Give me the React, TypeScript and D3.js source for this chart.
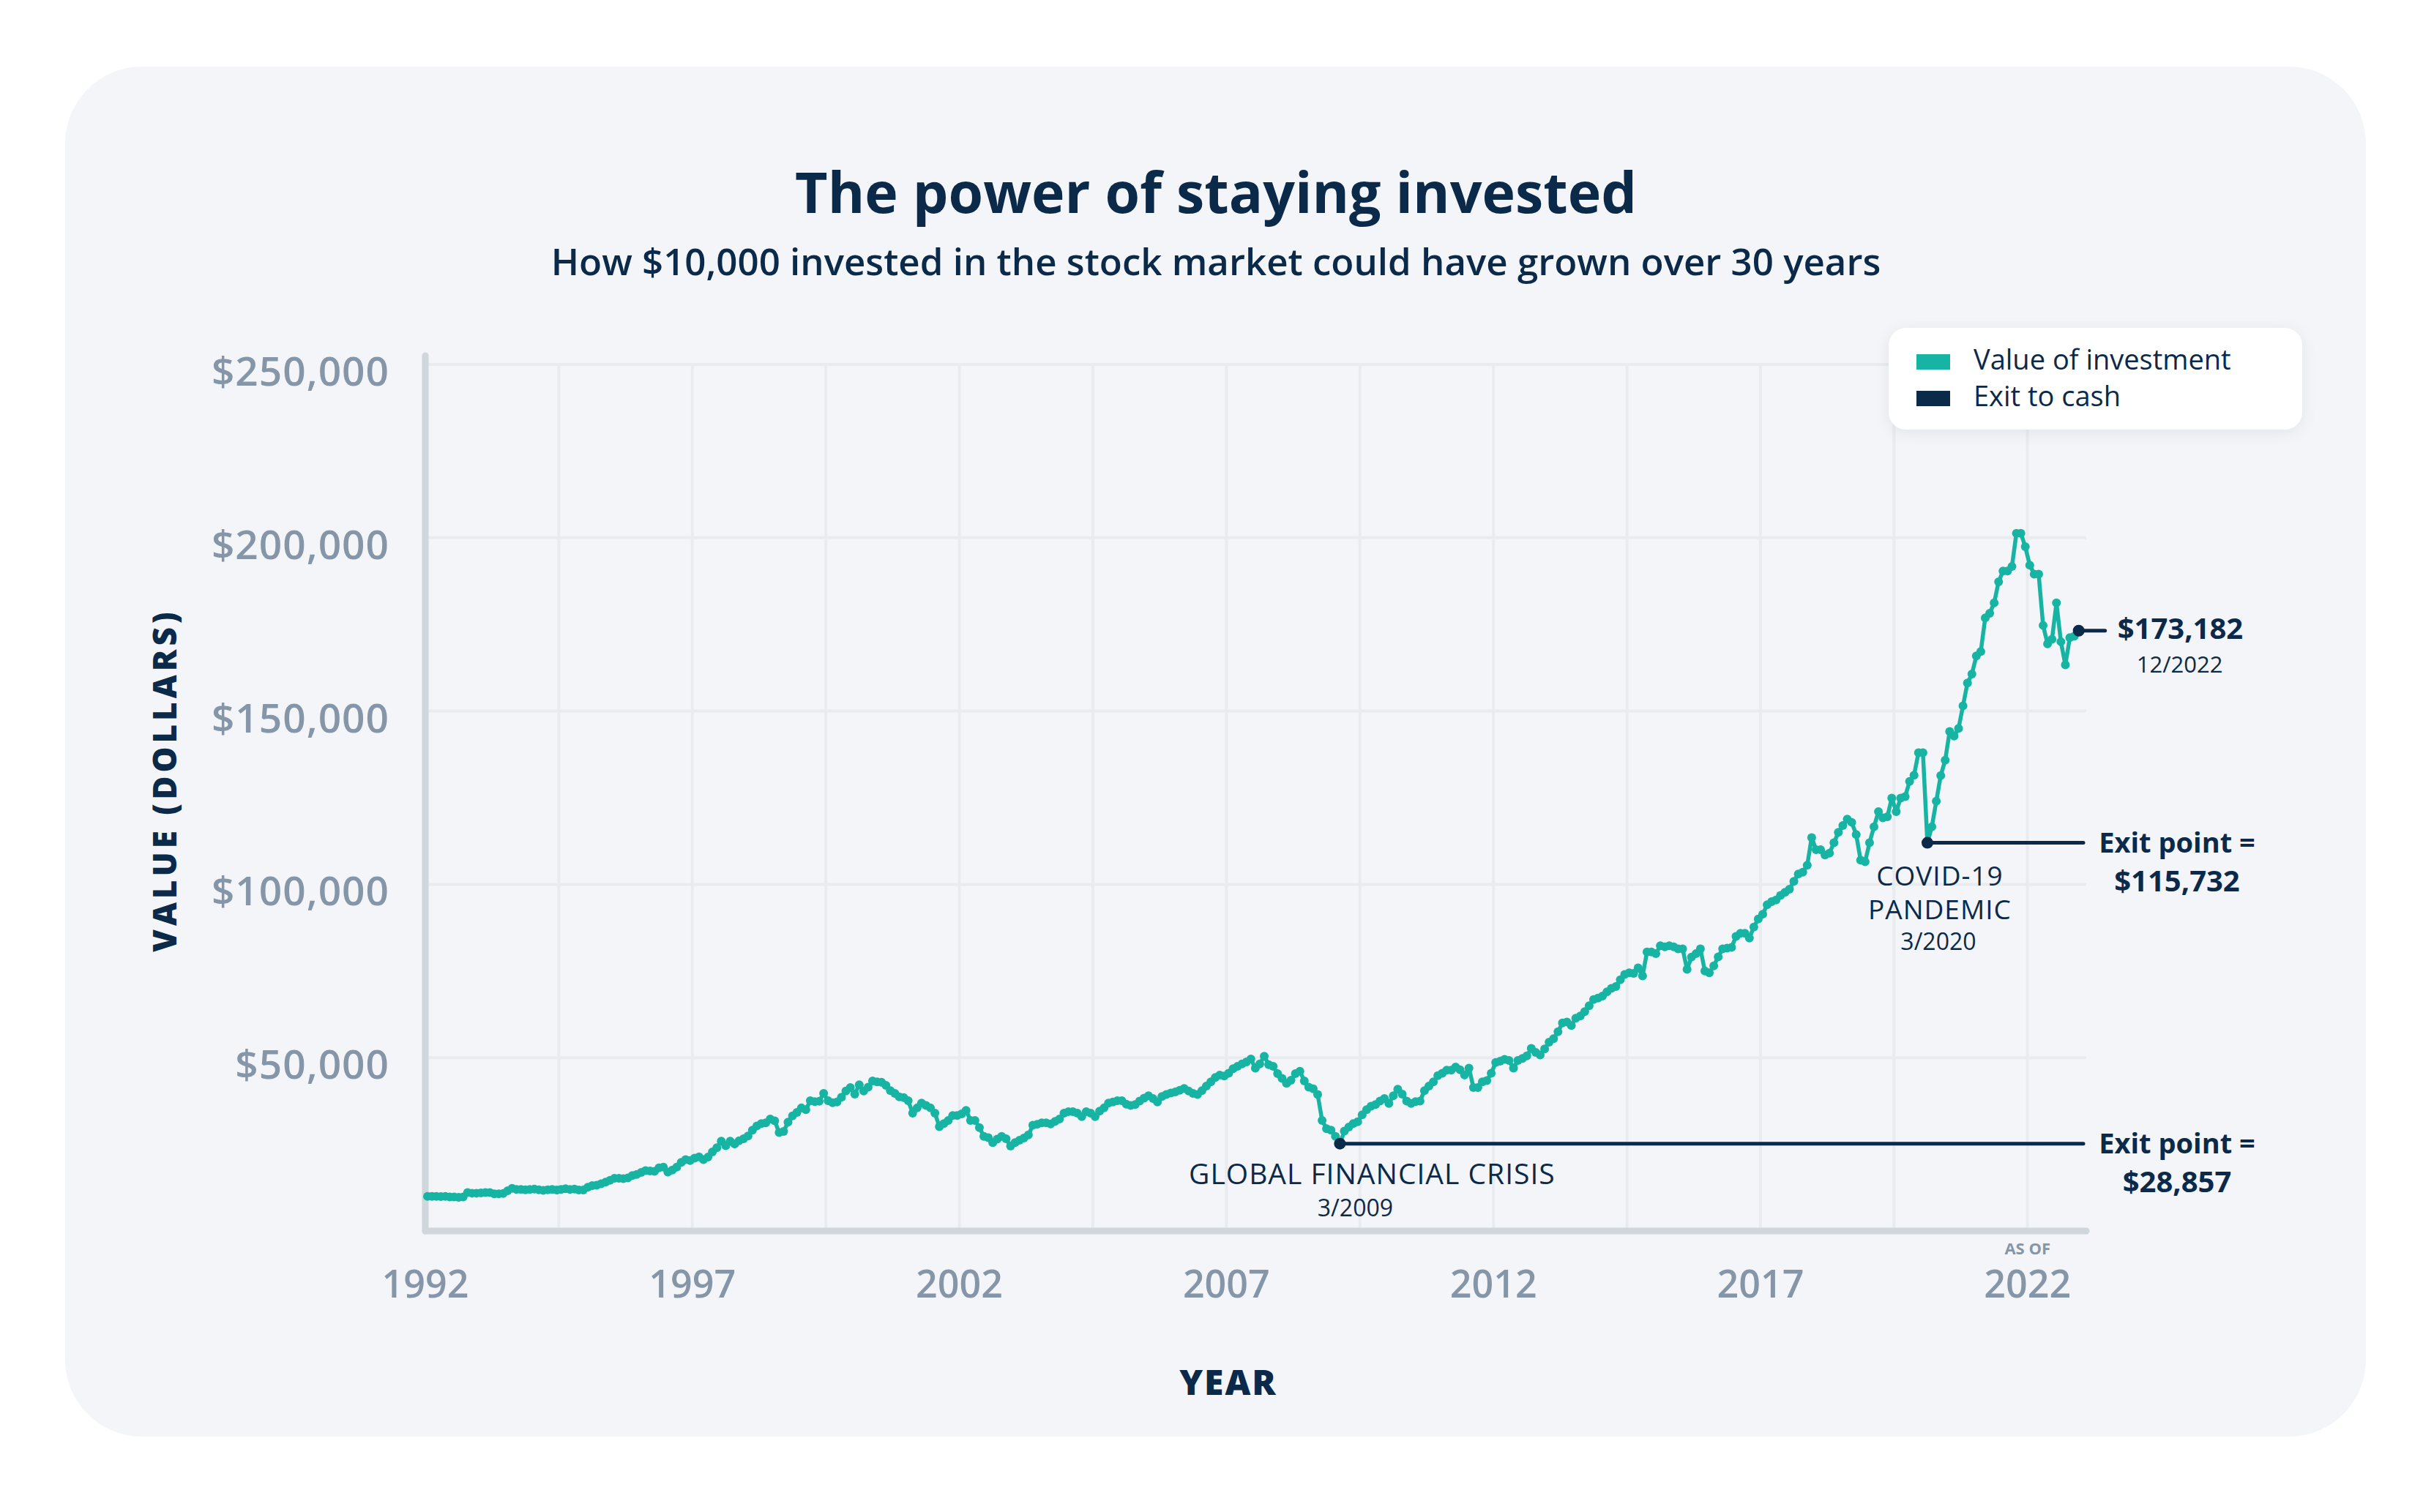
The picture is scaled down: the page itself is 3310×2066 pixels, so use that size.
import React from "react";
import * as d3 from "d3";

// monthly value of a $10,000 investment, in thousands of dollars
const values1992to1999 = [
  10.0, 10.0, 10.0, 9.9, 10.0, 9.8, 9.8, 9.7, 9.8, 11.1, 10.9, 10.9,
  11.0, 11.1, 11.1, 10.7, 10.7, 10.8, 11.6, 12.3, 12.0, 12.0, 11.9, 12.0,
  12.1, 11.9, 11.7, 11.9, 12.0, 11.8, 12.0, 12.2, 12.0, 12.1, 11.8, 11.8,
  12.6, 13.1, 13.2, 13.6, 14.1, 14.6, 15.2, 15.2, 15.1, 15.3, 16.0, 16.3,
  16.9, 17.4, 17.3, 17.2, 18.2, 18.4, 17.0, 17.6, 18.4, 19.8, 20.6, 20.3,
  21.0, 21.4, 20.6, 21.3, 22.8, 24.0, 25.9, 24.6, 25.9, 25.1, 26.0, 26.6,
  27.4, 29.1, 30.3, 31.0, 31.2, 32.3, 31.8, 28.4, 28.7, 31.4, 33.2, 34.2,
  35.5, 35.0, 37.6, 37.3, 37.4, 39.7, 37.6, 37.0, 37.2, 38.6, 40.4, 41.4,
];

const values2000to2009 = [
  39.5, 42.2, 40.4, 41.5, 43.3, 43.0, 42.9, 42.0, 40.5, 39.7, 38.7, 38.5,
  37.6, 34.0, 35.5, 36.9, 36.2, 35.5, 34.0, 30.1, 31.0, 31.9, 33.3, 33.3,
  33.8, 34.8, 31.9, 31.9, 29.8, 27.3, 26.9, 25.5, 26.5, 27.3, 26.6, 24.5,
  25.5, 26.2, 26.8, 27.7, 30.5, 30.8, 31.2, 31.2, 30.9, 31.6, 32.3, 34.0,
  34.4, 34.4, 34.0, 33.0, 34.4, 34.0, 33.0, 34.6, 35.5, 36.9, 37.2, 37.6,
  37.6, 36.6, 36.2, 36.5, 37.5, 38.3, 39.0, 38.2, 37.2, 38.8, 39.4, 39.8,
  40.1, 40.6, 41.1, 40.4, 39.7, 39.4, 40.5, 41.8, 43.0, 44.3, 45.0, 44.7,
  45.5, 46.8, 47.5, 48.2, 48.8, 49.6, 47.0, 48.2, 50.4, 48.0, 47.5, 45.4,
  44.0, 42.6, 43.5, 45.4, 46.1, 43.3, 41.5, 41.0, 39.4, 31.9, 29.5, 29.1,
  27.3, 25.2, 28.8, 30.0, 31.0, 31.5, 33.5, 35.0, 36.0, 36.5, 37.5, 38.2,
];

const values2010to2019 = [
  36.8, 39.0, 40.9, 39.5, 37.5, 36.8, 37.3, 37.5, 40.5, 41.8, 43.0, 44.8,
  45.5, 46.4, 46.4, 47.3, 46.5, 45.0, 47.0, 41.4, 41.4, 43.0, 43.4, 45.5,
  48.6, 49.0, 49.5, 49.2, 47.0, 49.2, 49.8, 50.5, 52.7, 51.5, 50.8, 52.5,
  54.5, 55.5, 57.5, 60.0, 60.3, 59.3, 61.4, 62.0, 63.3, 65.0, 66.8, 67.2,
  67.8, 69.0, 70.0, 70.5, 72.5, 74.0, 74.5, 74.3, 75.9, 73.6, 80.5, 80.5,
  80.0, 82.3, 82.0, 82.3, 82.0, 81.4, 81.4, 75.5, 79.0, 80.0, 81.4, 75.0,
  74.5, 76.5, 79.1, 81.4, 81.6, 81.8, 85.0, 85.9, 85.9, 84.5, 87.7, 90.0,
  91.4, 94.1, 95.0, 95.5, 96.8, 97.7, 98.6, 100.9, 103.0, 103.5, 105.5, 113.5,
  110.0, 110.0, 108.5, 109.0, 112.0, 115.0, 117.0, 118.8, 117.9, 114.4, 107.0, 106.5,
  112.0, 116.6, 121.0, 119.2, 119.5, 124.9, 121.0, 124.9, 125.3, 129.7, 131.5, 138.0,
];

const values2020to2022 = [
  138.0, 112.0, 116.6, 124.0, 131.4, 135.8, 144.1, 142.8, 145.0, 151.5, 158.1, 160.7,
  165.9, 167.2, 176.9, 178.2, 181.2, 187.3, 190.4, 190.4, 191.7, 201.3, 201.3, 197.4,
  192.1, 189.5, 189.5, 174.7, 169.4, 170.7, 181.2, 170.0, 163.3, 171.2, 171.6, 173.2,
];

const yTicks = [50000, 100000, 150000, 200000, 250000];
const xTicks = [1992, 1997, 2002, 2007, 2012, 2017, 2022];

const exitPoints = [
  { month: "2009-02", event: ["GLOBAL FINANCIAL CRISIS"], date: "3/2009", value: "$28,857" },
  { month: "2020-02", event: ["COVID-19", "PANDEMIC"], date: "3/2020", value: "$115,732" },
];
const finalPoint = { value: "$173,182", date: "12/2022" };

const legendItems = [
  { label: "Value of investment", color: "#17b3a3" },
  { label: "Exit to cash", color: "#0b2a4a" },
];

const TEAL = "#17b3a3";
const NAVY = "#0b2a4a";
const GRAY = "#8696a9";
const FONT = "'Open Sans', sans-serif";

const W = 3310;
const H = 2066;
const startYear = 1992;

export default function App() {
  const monthly = [...values1992to1999, ...values2000to2009, ...values2010to2019, ...values2020to2022];
  const series = monthly.map((v, i) => ({ t: startYear + (i + 0.5) / 12, v: v * 1000 }));

  const x = d3.scaleLinear().domain([1992, 2023.1]).range([581, 2850]);
  const y = d3.scaleLinear().domain([0, 250000]).range([1682, 498]);
  const [left, right] = x.range();
  const [bottom, top] = y.range();

  const line = d3
    .line<{ t: number; v: number }>()
    .x((d) => x(d.t))
    .y((d) => y(d.v));

  const fmt = d3.format("$,");
  const gridYears = d3.range(1994.5, 2023, 2.5);
  const labelColX = right + 124;

  const indexOf = (m: string) => {
    const [yy, mm] = m.split("-").map(Number);
    return (yy - startYear) * 12 + (mm - 1);
  };

  const last = series[series.length - 1];
  const lx = x(last.t);
  const ly = y(last.v);

  return (
    <svg
      width={W}
      height={H}
      style={{ position: "absolute", left: 0, top: 0, background: "#fff" }}
      fontFamily={FONT}
    >
      <defs>
        <filter id="shadow" x="-20%" y="-30%" width="140%" height="160%">
          <feDropShadow dx="0" dy="4" stdDeviation="10" floodColor="#1b2b40" floodOpacity="0.07" />
        </filter>
      </defs>

      <rect x={89} y={91} width={3143} height={1872} rx={105} fill="#f3f5f9" />

      {/* titles */}
      <text x={1661} y={291} textAnchor="middle" fontSize={77} fontWeight={700} fill={NAVY}>
        The power of staying invested
      </text>
      <text x={1661} y={376} textAnchor="middle" fontSize={51} fontWeight={600} fill={NAVY}>
        How $10,000 invested in the stock market could have grown over 30 years
      </text>

      {/* grid */}
      {yTicks.map((t) => (
        <line key={`gy-${t}`} x1={left} x2={right} y1={y(t)} y2={y(t)} stroke="#e9ecef" strokeWidth={4} />
      ))}
      {gridYears.map((g) => (
        <line key={`gx-${g}`} x1={x(g)} x2={x(g)} y1={top} y2={bottom} stroke="#e9ecef" strokeWidth={4} />
      ))}

      {/* axes */}
      <line x1={left} x2={left} y1={top - 12} y2={bottom} stroke="#cfd6dc" strokeWidth={9} strokeLinecap="round" />
      <line x1={left} x2={right} y1={bottom} y2={bottom} stroke="#cfd6dc" strokeWidth={9} strokeLinecap="round" />

      {yTicks.map((t) => (
        <text
          key={`yl-${t}`}
          x={532}
          y={y(t) + 29}
          textAnchor="end"
          fontSize={55}
          fontWeight={600}
          letterSpacing={1}
          fill={GRAY}
        >
          {fmt(t)}
        </text>
      ))}
      {xTicks.map((t) => (
        <text key={`xl-${t}`} x={x(t)} y={1773} textAnchor="middle" fontSize={52} fontWeight={600} fill={GRAY}>
          {t}
        </text>
      ))}
      <text x={x(2022)} y={1714} textAnchor="middle" fontSize={22} fontWeight={700} fill={GRAY}>
        AS OF
      </text>

      <text x={1678} y={1906} textAnchor="middle" fontSize={48} fontWeight={800} fill={NAVY} letterSpacing={2}>
        YEAR
      </text>
      <text
        transform={`translate(224, 1066) rotate(-90)`}
        textAnchor="middle"
        dominantBaseline="central"
        fontSize={44}
        fontWeight={800}
        fill={NAVY}
        letterSpacing={5}
      >
        VALUE (DOLLARS)
      </text>

      {/* series */}
      <path d={line(series) ?? ""} fill="none" stroke={TEAL} strokeWidth={5.5} strokeLinejoin="round" />
      {series.map((d, i) => (
        <circle key={`p-${i}`} cx={x(d.t)} cy={y(d.v)} r={6} fill={TEAL} />
      ))}

      {/* exit points */}
      {exitPoints.map((e) => {
        const d = series[indexOf(e.month)];
        const px = x(d.t);
        const py = y(d.v);
        const isMulti = e.event.length > 1;
        return (
          <g key={e.month}>
            <line x1={px} x2={right - 4} y1={py} y2={py} stroke={NAVY} strokeWidth={5} strokeLinecap="round" />
            <circle cx={px} cy={py} r={8} fill={NAVY} />
            {e.event.map((ln, k) => (
              <text
                key={ln}
                x={px + (isMulti ? 17 : 44)}
                y={py + (isMulti ? 58 : 55) + k * 46}
                textAnchor="middle"
                fontSize={isMulti ? 37 : 39}
                fontWeight={400}
                letterSpacing={isMulti ? 1 : 1}
                fill={NAVY}
              >
                {ln}
              </text>
            ))}
            <text
              x={px + (isMulti ? 15 : 21)}
              y={py + (isMulti ? 146 : 99)}
              textAnchor="middle"
              fontSize={32}
              fontWeight={400}
              fill={NAVY}
            >
              {e.date}
            </text>
            <text x={labelColX} y={py + 13} textAnchor="middle" fontSize={38} fontWeight={700} fill={NAVY}>
              Exit point =
            </text>
            <text x={labelColX} y={py + 66} textAnchor="middle" fontSize={40} fontWeight={700} fill={NAVY}>
              {e.value}
            </text>
          </g>
        );
      })}

      {/* latest value */}
      <line x1={lx} x2={lx + 36} y1={ly} y2={ly} stroke={NAVY} strokeWidth={5} strokeLinecap="round" />
      <circle cx={lx} cy={ly} r={8} fill={NAVY} />
      <text x={lx + 53} y={ly + 11} fontSize={40} fontWeight={700} fill={NAVY}>
        {finalPoint.value}
      </text>
      <text x={lx + 138} y={ly + 57} textAnchor="middle" fontSize={31} fontWeight={400} fill={NAVY}>
        {finalPoint.date}
      </text>

      {/* legend */}
      <g filter="url(#shadow)">
        <rect x={2580} y={448} width={565} height={139} rx={24} fill="#fff" />
      </g>
      {legendItems.map((item, i) => (
        <g key={item.label} transform={`translate(2618, ${484 + i * 50})`}>
          <rect width={46} height={21} fill={item.color} />
          <text x={78} y={21} fontSize={38} fontWeight={500} fill={NAVY}>
            {item.label}
          </text>
        </g>
      ))}
    </svg>
  );
}
